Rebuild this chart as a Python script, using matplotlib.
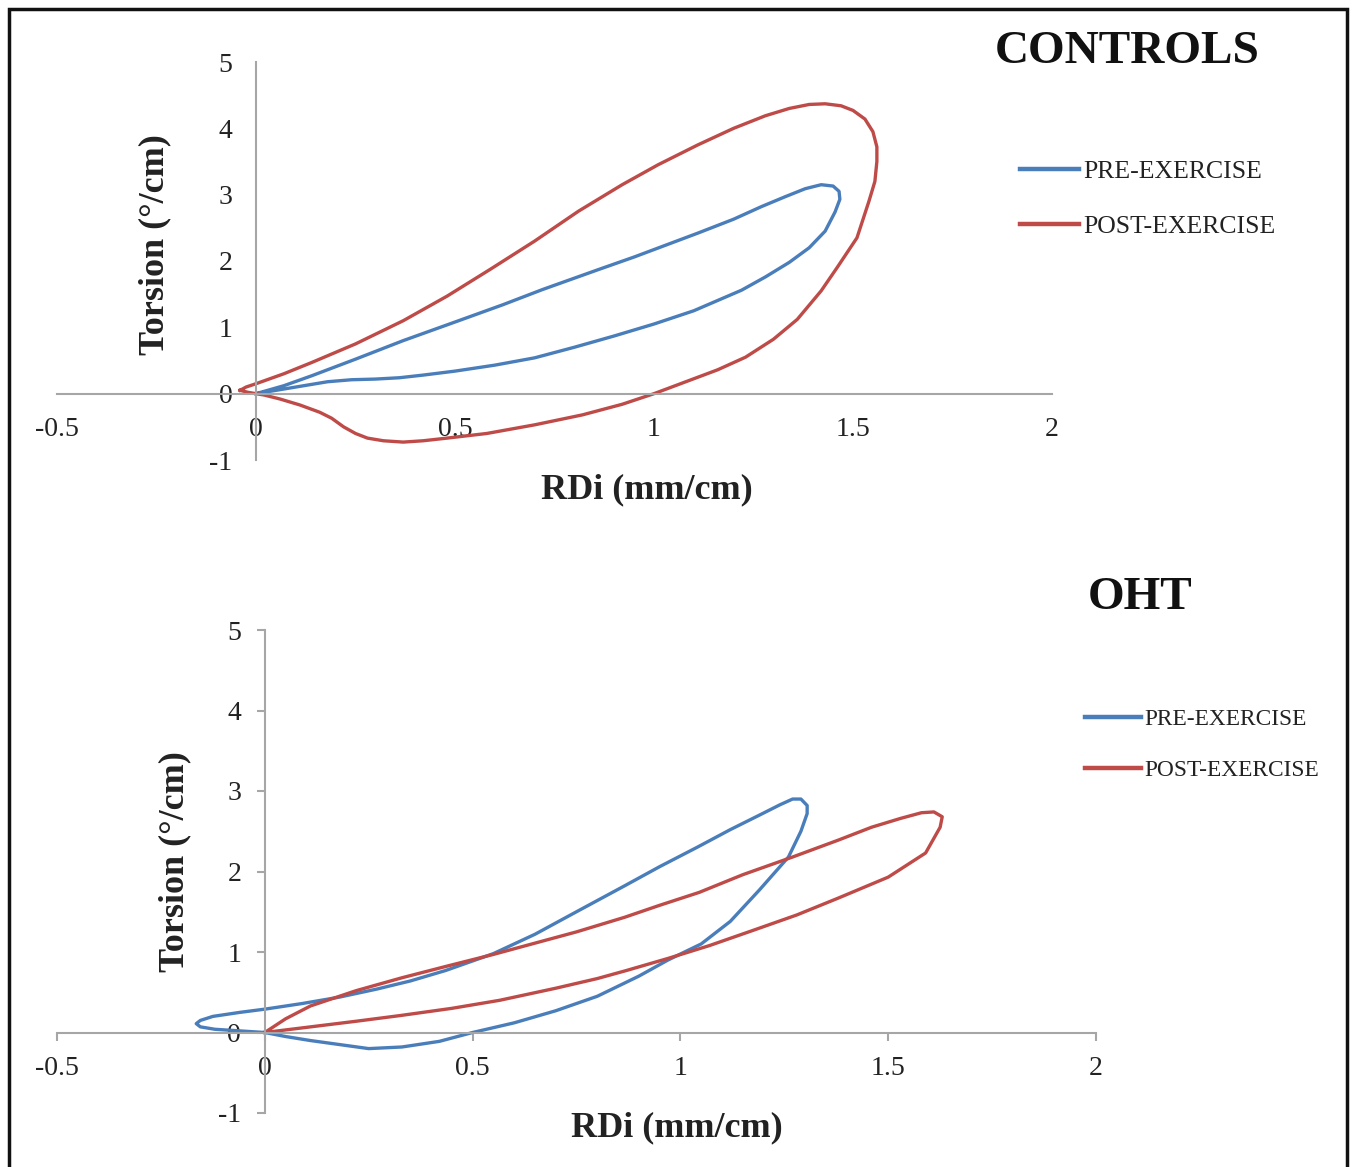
import matplotlib
matplotlib.use("Agg")
import matplotlib.pyplot as plt
from matplotlib.patches import Rectangle

plt.rcParams['font.family'] = ['Liberation Serif', 'DejaVu Serif']
plt.rcParams['axes.unicode_minus'] = False

# CONTROLS - pre-exercise loop (RDi mm/cm, torsion deg/cm)
ctrl_pre_x = [0, 0.07, 0.14, 0.25, 0.37, 0.5, 0.62, 0.72, 0.86, 0.95, 1.03, 1.11,
              1.2, 1.27, 1.33, 1.38, 1.42, 1.45, 1.465, 1.467, 1.455, 1.43, 1.39,
              1.34, 1.28, 1.22, 1.1, 1.0, 0.9, 0.8, 0.7, 0.6, 0.5, 0.42, 0.36,
              0.3, 0.24, 0.18, 0.12, 0.06, 0]
ctrl_pre_y = [0, 0.12, 0.27, 0.52, 0.8, 1.08, 1.34, 1.57, 1.87, 2.06, 2.24, 2.42,
              2.63, 2.82, 2.97, 3.09, 3.15, 3.13, 3.05, 2.93, 2.74, 2.45, 2.2,
              1.98, 1.76, 1.56, 1.25, 1.05, 0.87, 0.7, 0.54, 0.43, 0.34, 0.28, 0.24,
              0.22, 0.21, 0.18, 0.12, 0.06, 0]

# CONTROLS - post-exercise loop
ctrl_post_x = [-0.04, -0.025, 0, 0.07, 0.14, 0.25, 0.37, 0.48, 0.59, 0.7, 0.81, 0.92,
               1.01, 1.11, 1.2, 1.28, 1.34, 1.39, 1.43, 1.47, 1.5, 1.53, 1.55, 1.56,
               1.56, 1.555, 1.54, 1.51, 1.46, 1.42, 1.36, 1.3, 1.23, 1.16, 1.08, 1.0,
               0.92, 0.82, 0.7, 0.58, 0.48, 0.42, 0.37, 0.32, 0.28, 0.25, 0.22, 0.19,
               0.16, 0.11, 0.06, 0.02, -0.02, -0.04]
ctrl_post_y = [0.05, 0.1, 0.15, 0.3, 0.47, 0.75, 1.1, 1.47, 1.88, 2.3, 2.75, 3.15,
               3.45, 3.75, 4.0, 4.19, 4.3, 4.36, 4.37, 4.34, 4.27, 4.14, 3.95, 3.72,
               3.5, 3.2, 2.9, 2.35, 1.9, 1.55, 1.12, 0.82, 0.55, 0.36, 0.18, 0.0,
               -0.16, -0.32, -0.47, -0.6, -0.67, -0.71, -0.73, -0.71, -0.67, -0.6, -0.5, -0.37,
               -0.28, -0.17, -0.08, -0.02, 0.02, 0.05]

# OHT - pre-exercise loop
oht_pre_x = [0, -0.06, -0.12, -0.155, -0.165, -0.155, -0.125, -0.06, 0, 0.09, 0.18, 0.27,
             0.35, 0.435, 0.55, 0.65, 0.75, 0.865, 0.95, 1.04, 1.12, 1.19, 1.24, 1.27,
             1.29, 1.305, 1.305, 1.29, 1.26, 1.19, 1.12, 1.05, 0.97, 0.9, 0.8, 0.7,
             0.6, 0.5, 0.42, 0.33, 0.25, 0.18, 0.11, 0.05, 0]
oht_pre_y = [0, 0.02, 0.04, 0.07, 0.11, 0.15, 0.2, 0.25, 0.29, 0.36, 0.44, 0.54,
             0.64, 0.77, 0.98, 1.22, 1.5, 1.82, 2.06, 2.3, 2.52, 2.7, 2.83, 2.9,
             2.9, 2.82, 2.72, 2.5, 2.18, 1.77, 1.38, 1.1, 0.9, 0.7, 0.45, 0.27,
             0.12, 0.0, -0.11, -0.18, -0.2, -0.15, -0.1, -0.05, 0]

# OHT - post-exercise loop
oht_post_x = [0, 0.05, 0.11, 0.22, 0.33, 0.435, 0.55, 0.65, 0.75, 0.865, 0.95, 1.045,
              1.15, 1.27, 1.38, 1.46, 1.53, 1.58, 1.61, 1.63, 1.625, 1.59, 1.5, 1.38,
              1.28, 1.17, 1.07, 0.97, 0.87, 0.8, 0.7, 0.565, 0.45, 0.325, 0.22, 0.11, 0]
oht_post_y = [0, 0.17, 0.33, 0.52, 0.68, 0.82, 0.97, 1.11, 1.25, 1.43, 1.58, 1.74,
              1.96, 2.18, 2.39, 2.55, 2.66, 2.73, 2.74, 2.68, 2.55, 2.23, 1.93, 1.67,
              1.46, 1.26, 1.08, 0.92, 0.77, 0.67, 0.55, 0.4, 0.3, 0.21, 0.14, 0.07, 0]

x_ticks = [-0.5, 0, 0.5, 1, 1.5, 2]
x_ticklabels = ['-0.5', '0', '0.5', '1', '1.5', '2']
y_ticks = [-1, 0, 1, 2, 3, 4, 5]
series_labels = ['PRE-EXERCISE', 'POST-EXERCISE']
panel_titles = ['CONTROLS', 'OHT']

blue = '#4a7ebb'
red = '#be4b48'
axis_grey = '#a6a6a6'

W, H = 1355, 1167
fig = plt.figure(figsize=(W / 100, H / 100), dpi=100)


def px_rect(x0, y0, x1, y1):
    return [x0 / W, 1 - y1 / H, (x1 - x0) / W, (y1 - y0) / H]


def style_axes(ax, ticks_on):
    ax.set_xlim(-0.5, 2)
    ax.set_ylim(-1, 5)
    for s in ['top', 'right']:
        ax.spines[s].set_visible(False)
    for s in ['left', 'bottom']:
        ax.spines[s].set_position(('data', 0))
        ax.spines[s].set_color(axis_grey)
        ax.spines[s].set_linewidth(1.5)
    ax.set_xticks(x_ticks)
    ax.set_xticklabels(x_ticklabels)
    ax.set_yticks(y_ticks)
    if ticks_on:
        ax.tick_params(length=6, width=1.5, color=axis_grey, pad=11, labelsize=20)
    else:
        ax.tick_params(length=0, pad=17, labelsize=20)
    ax.tick_params(labelcolor='#222222')
    ax.patch.set_visible(False)


ax1 = fig.add_axes(px_rect(57, 62, 1052, 460))
style_axes(ax1, False)
ax1.plot(ctrl_pre_x, ctrl_pre_y, color=blue, lw=2.4, label=series_labels[0],
         solid_joinstyle='round')
ax1.plot(ctrl_post_x, ctrl_post_y, color=red, lw=2.4, label=series_labels[1],
         solid_joinstyle='round')

ax2 = fig.add_axes(px_rect(57, 630, 1096, 1113))
style_axes(ax2, True)
ax2.plot(oht_pre_x, oht_pre_y, color=blue, lw=2.4, label=series_labels[0],
         solid_joinstyle='round')
ax2.plot(oht_post_x, oht_post_y, color=red, lw=2.4, label=series_labels[1],
         solid_joinstyle='round')

# axis titles
lab = dict(ha='center', va='center', fontsize=26, fontweight='bold', color='#222222')
fig.text(647 / W, 1 - 490 / H, 'RDi (mm/cm)', **lab)
fig.text(155 / W, 1 - 245 / H, 'Torsion (°/cm)', rotation=90, **lab)
fig.text(677 / W, 1 - 1128 / H, 'RDi (mm/cm)', **lab)
fig.text(175 / W, 1 - 862 / H, 'Torsion (°/cm)', rotation=90, **lab)

# panel titles
fig.text(1127 / W, 1 - 52 / H, panel_titles[0], ha='center', va='center',
         fontsize=34, fontweight='bold', color='#111111')
fig.text(1140 / W, 1 - 598 / H, panel_titles[1], ha='center', va='center',
         fontsize=34, fontweight='bold', color='#111111')

# legends
for ax, (lx, ly), fs, hl in [(ax1, (1020, 160), 18.5, 2.3),
                             (ax2, (1085, 709), 16.8, 2.4)]:
    leg = ax.legend(loc='upper left', bbox_to_anchor=(lx / W, 1 - ly / H),
                    bbox_transform=fig.transFigure, frameon=False, fontsize=fs,
                    handlelength=hl, handletextpad=0.15, labelspacing=1.25,
                    borderpad=0, borderaxespad=0)
    for line in leg.get_lines():
        line.set_linewidth(3.2)
    for t in leg.get_texts():
        t.set_color('#222222')

# outer frame (bottom edge runs off the image)
fig.patches.append(Rectangle((9 / W, -0.02), (1347 - 9) / W, 1.02 - 9 / H,
                             transform=fig.transFigure, fill=False,
                             edgecolor='#111111', linewidth=2.5))

fig.savefig('out.png', dpi=100)
